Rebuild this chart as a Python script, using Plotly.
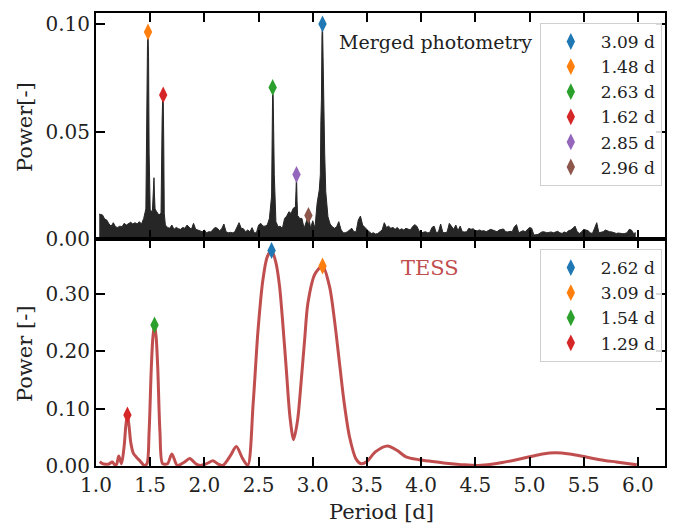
import numpy as np
import plotly.graph_objects as go
from plotly.subplots import make_subplots

# ---------------- Merged photometry periodogram ----------------
# power sampled on a regular period grid (1.04 ... 5.98 d, step 0.02 d)
merged_grid_start = 1.04
merged_grid_step = 0.02
merged_grid_power = [
    0.0115, 0.0112, 0.0093, 0.0088, 0.0070, 0.0060, 0.0076, 0.0057, 0.0054, 0.0060,
    0.0057, 0.0073, 0.0065, 0.0070, 0.0078, 0.0070, 0.0076, 0.0070, 0.0081, 0.0070,
    0.0096, 0.0140, 0.0963, 0.0135, 0.0127, 0.0200, 0.0127, 0.0112, 0.0120, 0.0670,
    0.0065, 0.0054, 0.0050, 0.0065, 0.0045, 0.0054, 0.0048, 0.0045, 0.0054, 0.0050,
    0.0065, 0.0054, 0.0045, 0.0073, 0.0045, 0.0042, 0.0039, 0.0034, 0.0042, 0.0029,
    0.0034, 0.0033, 0.0045, 0.0054, 0.0050, 0.0039, 0.0048, 0.0070, 0.0034, 0.0029,
    0.0031, 0.0029, 0.0033, 0.0054, 0.0076, 0.0050, 0.0048, 0.0034, 0.0042, 0.0034,
    0.0053, 0.0029, 0.0029, 0.0065, 0.0073, 0.0060, 0.0060, 0.0065, 0.0096, 0.0200,
    0.0460, 0.0081, 0.0057, 0.0060, 0.0050, 0.0096, 0.0107, 0.0127, 0.0119, 0.0143,
    0.0150, 0.0110, 0.0096, 0.0096, 0.0050, 0.0081, 0.0110, 0.0050, 0.0085, 0.0050,
    0.0166, 0.0228, 0.0650, 0.0590, 0.0220, 0.0104, 0.0070, 0.0057, 0.0050, 0.0057,
    0.0081, 0.0045, 0.0029, 0.0029, 0.0034, 0.0042, 0.0050, 0.0034, 0.0034, 0.0088,
    0.0107, 0.0065, 0.0054, 0.0042, 0.0034, 0.0026, 0.0029, 0.0023, 0.0026, 0.0034,
    0.0042, 0.0076, 0.0054, 0.0060, 0.0050, 0.0054, 0.0045, 0.0054, 0.0042, 0.0048,
    0.0042, 0.0050, 0.0045, 0.0042, 0.0057, 0.0067, 0.0060, 0.0039, 0.0029, 0.0033,
    0.0034, 0.0029, 0.0031, 0.0054, 0.0060, 0.0029, 0.0034, 0.0070, 0.0031, 0.0029,
    0.0033, 0.0073, 0.0057, 0.0045, 0.0065, 0.0039, 0.0060, 0.0034, 0.0033, 0.0034,
    0.0050, 0.0045, 0.0048, 0.0039, 0.0039, 0.0042, 0.0037, 0.0039, 0.0034, 0.0039,
    0.0045, 0.0042, 0.0039, 0.0034, 0.0042, 0.0045, 0.0047, 0.0034, 0.0033, 0.0036,
    0.0034, 0.0057, 0.0067, 0.0029, 0.0034, 0.0039, 0.0034, 0.0042, 0.0054, 0.0050,
    0.0019, 0.0020, 0.0022, 0.0029, 0.0034, 0.0033, 0.0029, 0.0031, 0.0033, 0.0029,
    0.0033, 0.0036, 0.0029, 0.0026, 0.0033, 0.0029, 0.0039, 0.0042, 0.0050, 0.0060,
    0.0034, 0.0026, 0.0033, 0.0045, 0.0042, 0.0039, 0.0029, 0.0026, 0.0050, 0.0076,
    0.0029, 0.0033, 0.0034, 0.0042, 0.0036, 0.0034, 0.0033, 0.0029, 0.0026, 0.0028,
    0.0026, 0.0025, 0.0026, 0.0029, 0.0045, 0.0042, 0.0026, 0.0029,
]
# extra samples resolving the narrow peaks between grid points
merged_extra_period = [1.03, 1.465, 1.47, 1.475, 1.485, 1.49, 1.525, 1.53, 1.535, 1.545,
                       1.605, 1.61, 1.615, 1.625, 1.63,
                       2.625, 2.63, 2.635, 2.645,
                       2.845, 2.85, 2.855,
                       3.07, 3.075, 3.085, 3.09, 3.095, 3.105, 3.11]
merged_extra_power = [0.0116, 0.050, 0.060, 0.090, 0.085, 0.040, 0.018, 0.027, 0.0285, 0.014,
                      0.046, 0.055, 0.065, 0.045, 0.012,
                      0.050, 0.0705, 0.066, 0.030,
                      0.022, 0.030, 0.018,
                      0.030, 0.055, 0.095, 0.100, 0.085, 0.059, 0.040]

merged_labels = ["3.09 d", "1.48 d", "2.63 d", "1.62 d", "2.85 d", "2.96 d"]
merged_mark_period = [3.09, 1.48, 2.63, 1.62, 2.85, 2.96]
merged_mark_power = [0.100, 0.0963, 0.0705, 0.067, 0.030, 0.011]

# ---------------- TESS periodogram ----------------
tess_period = [1.035, 1.06, 1.09, 1.12, 1.15, 1.175, 1.19, 1.21, 1.235, 1.26, 1.275, 1.29,
               1.305, 1.32, 1.345, 1.375, 1.41, 1.445, 1.47, 1.49, 1.51, 1.525, 1.54,
               1.555, 1.57, 1.59, 1.615, 1.66, 1.70, 1.75, 1.81, 1.865, 1.92, 1.96,
               2.02, 2.08, 2.13, 2.17, 2.24, 2.295, 2.35, 2.40, 2.45, 2.495, 2.54,
               2.58, 2.62, 2.66, 2.694, 2.725, 2.756, 2.79, 2.823, 2.86, 2.894, 2.925,
               2.955, 3.02, 3.09, 3.155, 3.20, 3.247, 3.29, 3.339, 3.40, 3.447, 3.50,
               3.58, 3.69, 3.78, 3.86, 3.98, 4.10, 4.23, 4.40, 4.53, 4.65, 4.75, 4.88,
               5.00, 5.12, 5.24, 5.37, 5.49, 5.65, 5.80, 5.99]
tess_power = [0.0075, 0.004, 0.003, 0.0035, 0.007, 0.002, 0.003, 0.0175, 0.004, 0.035, 0.070, 0.089,
              0.070, 0.042, 0.022, 0.015, 0.008, 0.001, 0.004, 0.060, 0.170, 0.225, 0.246,
              0.225, 0.170, 0.060, 0.004, 0.004, 0.021, 0.001, 0.006, 0.013, 0.004, 0.001,
              0.004, 0.009, 0.003, 0.001, 0.018, 0.034, 0.014, 0.001, 0.109, 0.237, 0.325,
              0.365, 0.376, 0.355, 0.313, 0.245, 0.168, 0.085, 0.046, 0.080, 0.150, 0.220,
              0.284, 0.335, 0.349, 0.313, 0.255, 0.179, 0.110, 0.051, 0.012, 0.004, 0.008,
              0.025, 0.035, 0.027, 0.016, 0.011, 0.008, 0.005, 0.002, 0.001, 0.003, 0.006, 0.011,
              0.016, 0.021, 0.023, 0.021, 0.017, 0.011, 0.007, 0.002]

tess_labels = ["2.62 d", "3.09 d", "1.54 d", "1.29 d"]
tess_mark_period = [2.62, 3.09, 1.54, 1.29]
tess_mark_power = [0.376, 0.349, 0.246, 0.089]

mark_colors = ["#1f77b4", "#ff7f0e", "#2ca02c", "#d62728", "#9467bd", "#8c564b"]

# assemble the merged periodogram curve
grid_period = np.round(merged_grid_start + merged_grid_step * np.arange(len(merged_grid_power)), 3)
all_period = np.concatenate([grid_period, merged_extra_period])
all_power = np.concatenate([merged_grid_power, merged_extra_power])
order = np.argsort(all_period)
merged_period = all_period[order]
merged_power = all_power[order]

FONT = "'DejaVu Serif', serif"
fig = make_subplots(rows=2, cols=1, shared_xaxes=True, vertical_spacing=0)

fig.add_trace(go.Scatter(x=merged_period, y=merged_power, mode="lines",
                         line=dict(color="#262626", width=1),
                         fill="tozeroy", fillcolor="#262626",
                         showlegend=False, hoverinfo="skip"), row=1, col=1)
for lab, p, v, c in zip(merged_labels, merged_mark_period, merged_mark_power, mark_colors):
    fig.add_trace(go.Scatter(x=[p], y=[v], mode="markers", name=lab,
                             marker=dict(symbol="diamond-tall", size=12, color=c),
                             legend="legend"), row=1, col=1)

fig.add_trace(go.Scatter(x=tess_period, y=tess_power, mode="lines",
                         line=dict(color="rgba(178,34,34,0.8)", width=3, shape="spline", smoothing=0.8),
                         showlegend=False, hoverinfo="skip"), row=2, col=1)
for lab, p, v, c in zip(tess_labels, tess_mark_period, tess_mark_power, mark_colors):
    fig.add_trace(go.Scatter(x=[p], y=[v], mode="markers", name=lab,
                             marker=dict(symbol="diamond-tall", size=12, color=c),
                             legend="legend2"), row=2, col=1)

axis_common = dict(showline=True, linecolor="black", linewidth=2, mirror="ticks",
                   ticks="inside", ticklen=9, tickwidth=1.5, tickcolor="black",
                   showgrid=False, zeroline=False,
                   tickfont=dict(family=FONT, size=20, color="#222"))

x_ticks = [1.0, 1.5, 2.0, 2.5, 3.0, 3.5, 4.0, 4.5, 5.0, 5.5, 6.0]
fig.update_xaxes(range=[1.0, 6.25], tickvals=x_ticks, tickformat=".1f", **axis_common)
fig.update_xaxes(showticklabels=False, row=1, col=1)
fig.update_yaxes(range=[0, 0.1051], tickvals=[0, 0.05, 0.10], tickformat=".2f",
                 row=1, col=1, **axis_common)
fig.update_yaxes(range=[0, 0.396], tickvals=[0, 0.1, 0.2, 0.3], tickformat=".2f",
                 row=2, col=1, **axis_common)

legend_common = dict(font=dict(family=FONT, size=17, color="#222"),
                     bgcolor="rgba(255,255,255,0.85)", bordercolor="#d0d0d0", borderwidth=1,
                     xanchor="left", yanchor="top", itemwidth=50, tracegroupgap=0)
fig.update_layout(
    width=676, height=526,
    margin=dict(l=96, r=11, t=13, b=60, autoexpand=False),
    plot_bgcolor="white", paper_bgcolor="white",
    legend=dict(x=0.78, y=0.978, **legend_common),
    legend2=dict(x=0.78, y=0.479, **legend_common),
)
fig.update_layout(yaxis=dict(domain=[0.501, 1.0]), yaxis2=dict(domain=[0.0, 0.501]))

title_font = dict(family=FONT, size=21, color="#222")
fig.add_annotation(text="Merged photometry", x=0.5975, y=0.936, xref="paper", yref="paper",
                   xanchor="center", yanchor="middle", showarrow=False,
                   font=dict(family=FONT, size=19, color="#222"))
fig.add_annotation(text="TESS", x=0.587, y=0.437, xref="paper", yref="paper",
                   xanchor="center", yanchor="middle", showarrow=False,
                   font=dict(family=FONT, size=21, color="rgb(193,78,78)"))
fig.add_annotation(text="Power[-]", x=-0.125, y=0.748, xref="paper", yref="paper",
                   textangle=-90, xanchor="center", yanchor="middle", showarrow=False, font=title_font)
fig.add_annotation(text="Power [-]", x=-0.125, y=0.249, xref="paper", yref="paper",
                   textangle=-90, xanchor="center", yanchor="middle", showarrow=False, font=title_font)
fig.add_annotation(text="Period [d]", x=0.501, y=-0.1015, xref="paper", yref="paper",
                   xanchor="center", yanchor="middle", showarrow=False, font=title_font)

fig.write_html("out.html")
